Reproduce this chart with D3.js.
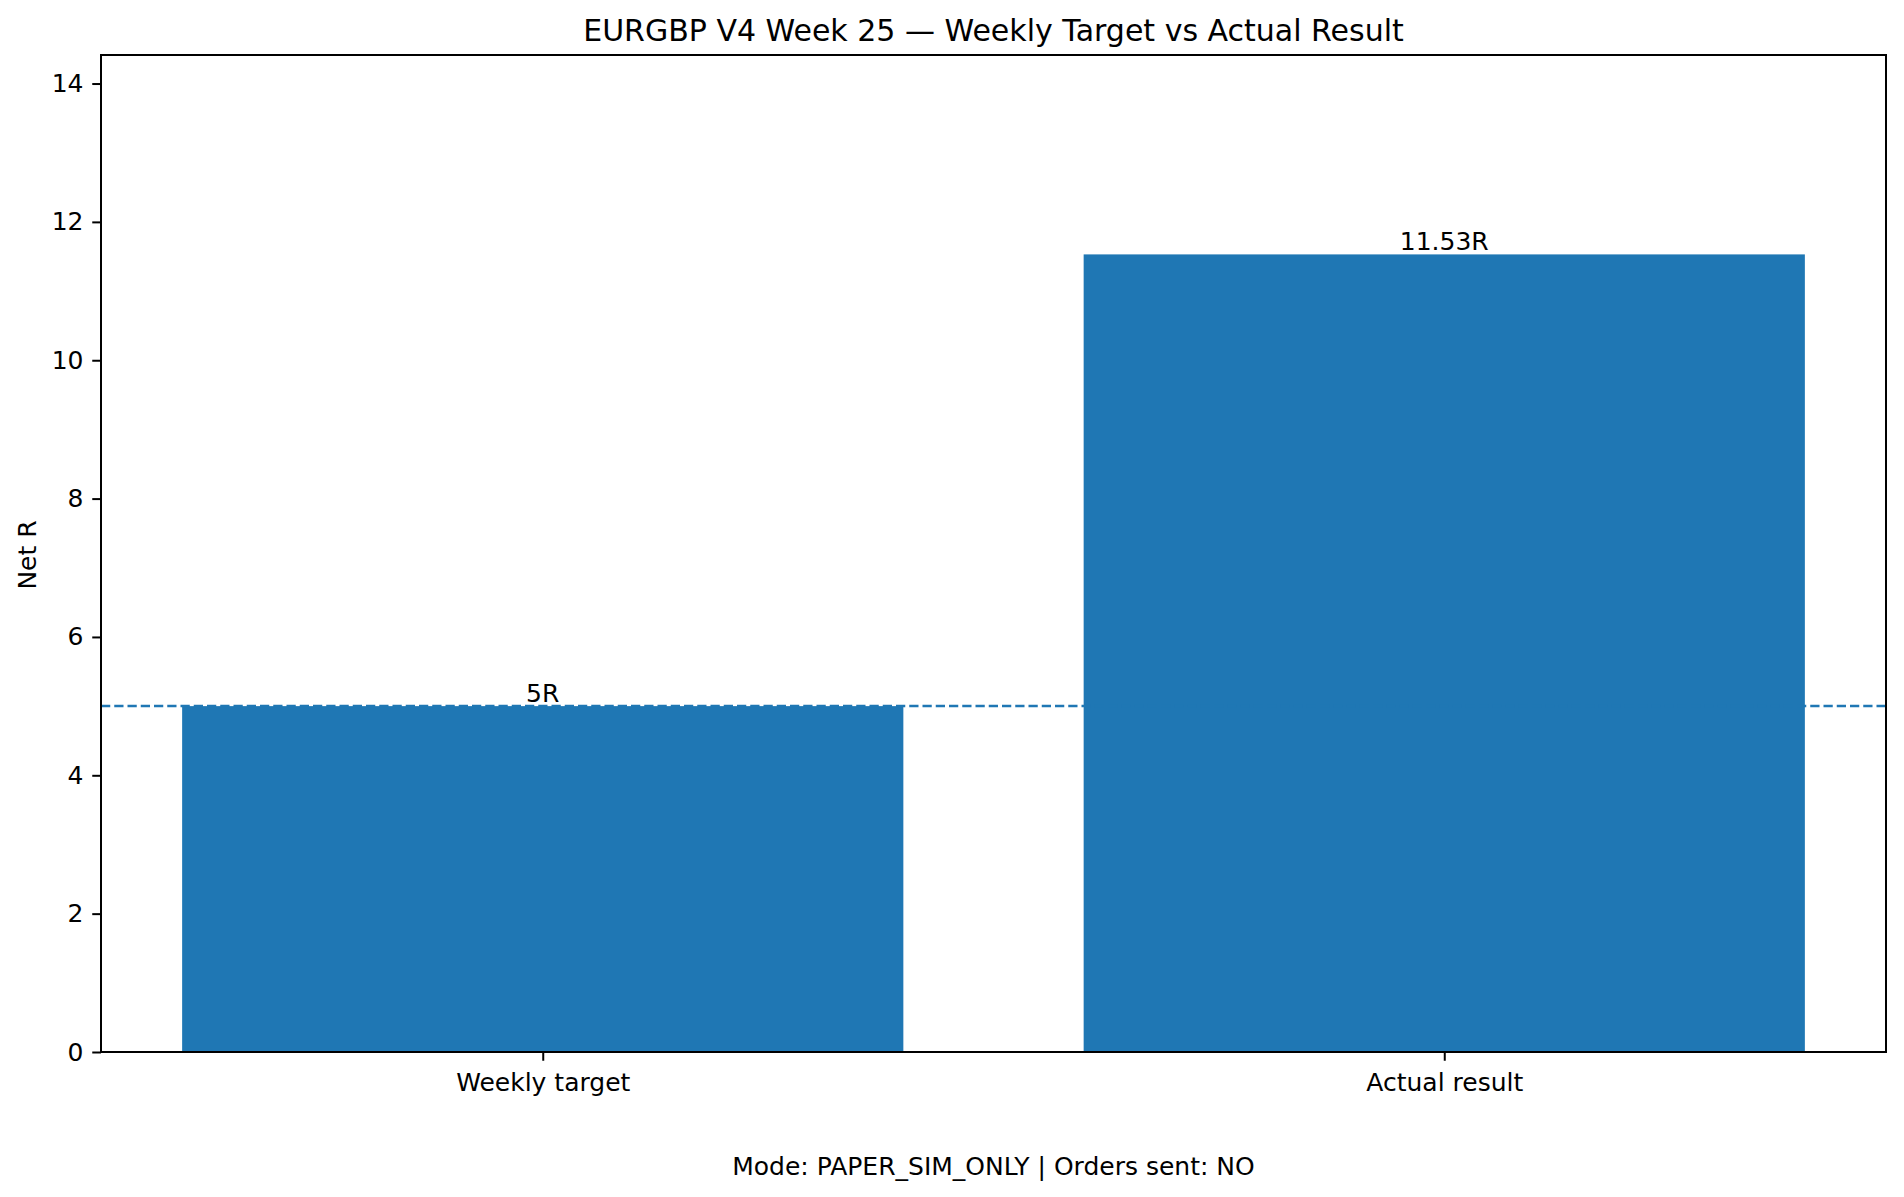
<!DOCTYPE html>
<html>
<head>
<meta charset="utf-8">
<script src="https://cdn.jsdelivr.net/npm/d3@7"></script>
<style>
  html, body { margin: 0; padding: 0; background: #fff; }
  svg { display: block; font-family: "DejaVu Sans", sans-serif; }
</style>
</head>
<body>
<svg id="chart" width="1904" height="1197"></svg>
<script>
// ---- data ----
const categories = ["Weekly target", "Actual result"];
const values = [5, 11.53];
const valueLabels = ["5R", "11.53R"];
const targetValue = 5;
const yTicks = [0, 2, 4, 6, 8, 10, 12, 14];
const titleText = "EURGBP V4 Week 25 \u2014 Weekly Target vs Actual Result";
const yLabelText = "Net R";
const footerText = "Mode: PAPER_SIM_ONLY | Orders sent: NO";

// ---- layout ----
const W = 1904, H = 1197;
const M = { left: 101, right: 1886, top: 55, bottom: 1052 };
const color = "#1f77b4";
const tickFont = 25;
const titleFont = 30;
const tickLen = 8.75;

const svg = d3.select("#chart");

const x = d3.scaleLinear().domain([-0.49, 1.49]).range([M.left, M.right]);
const y = d3.scaleLinear().domain([0, d3.max(values) * 1.25]).range([M.bottom, M.top]);

// bars
svg.append("g").selectAll("rect").data(values).join("rect")
  .attr("x", (d, i) => x(i - 0.4))
  .attr("width", (d, i) => x(i + 0.4) - x(i - 0.4))
  .attr("y", d => y(d))
  .attr("height", d => y(0) - y(d))
  .attr("fill", color);

// target line
svg.append("line")
  .attr("x1", M.left).attr("x2", M.right)
  .attr("y1", y(targetValue)).attr("y2", y(targetValue))
  .attr("stroke", color).attr("stroke-width", 2.5)
  .attr("stroke-dasharray", "9.25,4");

// value labels
svg.append("g").selectAll("text").data(values).join("text")
  .attr("x", (d, i) => x(i))
  .attr("y", d => y(d) - 4)
  .attr("text-anchor", "middle")
  .attr("font-size", tickFont)
  .attr("fill", "#000")
  .text((d, i) => valueLabels[i]);

// axes
const yAxis = d3.axisLeft(y).tickValues(yTicks).tickFormat(d3.format("d")).tickSize(tickLen).tickPadding(8.75);
const gy = svg.append("g").attr("transform", `translate(${M.left},0)`).call(yAxis);
gy.select(".domain").remove();
gy.selectAll(".tick line").attr("stroke", "#000").attr("stroke-width", 2);
gy.selectAll(".tick text").attr("font-size", tickFont).attr("font-family", "DejaVu Sans").attr("fill", "#000");

const xAxis = d3.axisBottom(x).tickValues(d3.range(categories.length)).tickFormat(i => categories[i]).tickSize(tickLen).tickPadding(12);
const gx = svg.append("g").attr("transform", `translate(0,${M.bottom})`).call(xAxis);
gx.select(".domain").remove();
gx.selectAll(".tick line").attr("stroke", "#000").attr("stroke-width", 2);
gx.selectAll(".tick text").attr("font-size", tickFont).attr("font-family", "DejaVu Sans").attr("fill", "#000");

// frame
svg.append("rect")
  .attr("x", M.left).attr("y", M.top)
  .attr("width", M.right - M.left).attr("height", M.bottom - M.top)
  .attr("fill", "none").attr("stroke", "#000").attr("stroke-width", 2);

// title
svg.append("text")
  .attr("x", (M.left + M.right) / 2).attr("y", 41)
  .attr("text-anchor", "middle").attr("font-size", titleFont).attr("fill", "#000")
  .text(titleText);

// y label
svg.append("text")
  .attr("transform", `translate(36,${(M.top + M.bottom) / 2 + 1.5}) rotate(-90)`)
  .attr("text-anchor", "middle").attr("font-size", tickFont).attr("fill", "#000")
  .text(yLabelText);

// footer
svg.append("text")
  .attr("x", (M.left + M.right) / 2).attr("y", 1175)
  .attr("text-anchor", "middle").attr("font-size", tickFont).attr("fill", "#000")
  .text(footerText);
</script>
</body>
</html>
